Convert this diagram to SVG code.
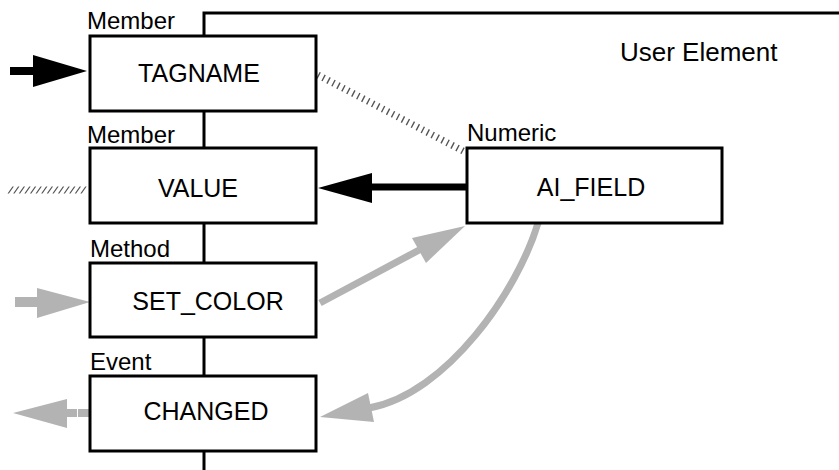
<svg xmlns="http://www.w3.org/2000/svg" width="839" height="470" viewBox="0 0 839 470">
<style>
text { font-family: "Liberation Sans", Arial, sans-serif; fill: #000; }
.lbl { font-size: 24px; }
.name { font-size: 25px; text-anchor: middle; }
.box { fill: #fff; stroke: #000; stroke-width: 3; }
.frame { fill: none; stroke: #000; stroke-width: 3; }
.blk { stroke: #000; fill: none; }
.blkh { fill: #000; }
.gry { stroke: #b3b3b3; fill: none; }
.gryh { fill: #b3b3b3; }
.hatch { stroke: #555; stroke-width: 7; stroke-dasharray: 1.4 4.2; fill: none; }
</style>
<rect width="839" height="470" fill="#fff"/>
<g id="frame">
  <path class="frame" d="M204,470 V13 H839"/>
  <text class="lbl" x="620" y="61" style="font-size:26px">User Element</text>
</g>
<g id="connectors">
  <path class="hatch" d="M318,75 L465,152"/>
  <g transform="translate(0,190) skewX(-35)"><path class="hatch" d="M10,0 H85"/></g>
  <line class="blk" x1="10" y1="71" x2="35" y2="71" stroke-width="8"/>
  <polygon class="blkh" points="33,55 87,71 33,87"/>
  <line class="blk" x1="467" y1="187" x2="370" y2="187" stroke-width="7"/>
  <polygon class="blkh" points="372,173 318,188 372,203"/>
  <line class="gry" x1="15" y1="302" x2="39" y2="302" stroke-width="10"/>
  <polygon class="gryh" points="37,288 90,302 37,318"/>
  <line class="gry" x1="320" y1="303" x2="421" y2="249" stroke-width="7"/>
  <polygon class="gryh" points="412,238 465,226 426,263"/>
  <path class="gry" d="M538,223 C518,290 447,394 369,408" stroke-width="7"/>
  <polygon class="gryh" points="368,393 320,417 374,422"/>
  <line class="gry" x1="78" y1="413" x2="89" y2="413" stroke-width="8"/>
  <line class="gry" x1="65" y1="413" x2="77" y2="413" stroke-width="8"/>
  <polygon class="gryh" points="67,399 13,413 67,428"/>
</g>
<g id="tagname">
  <text class="lbl" x="87" y="29">Member</text>
  <rect class="box" x="90" y="36" width="226" height="75"/>
  <text class="name" x="199" y="82">TAGNAME</text>
</g>
<g id="value">
  <text class="lbl" x="87" y="143">Member</text>
  <rect class="box" x="90" y="148" width="226" height="75"/>
  <text class="name" x="198" y="197">VALUE</text>
</g>
<g id="set_color">
  <text class="lbl" x="90" y="257">Method</text>
  <rect class="box" x="90" y="263" width="226" height="74"/>
  <text class="name" x="208" y="310">SET_COLOR</text>
</g>
<g id="changed">
  <text class="lbl" x="90" y="370">Event</text>
  <rect class="box" x="90" y="376" width="226" height="75"/>
  <text class="name" x="206" y="420">CHANGED</text>
</g>
<g id="ai_field">
  <text class="lbl" x="467" y="141">Numeric</text>
  <rect class="box" x="467" y="148" width="255" height="75"/>
  <text class="name" x="591" y="196">AI_FIELD</text>
</g>
</svg>
